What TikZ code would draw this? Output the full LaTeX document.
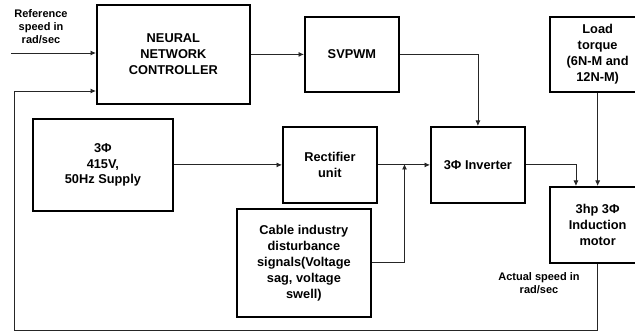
\documentclass[tikz,border=0pt]{standalone}
\usepackage{fontspec}
\setmainfont{Liberation Sans}
\usetikzlibrary{arrows.meta,calc}
\tikzset{
  blk/.style={draw=black,line width=1.8pt,align=center,inner sep=0pt,font=\fontsize{12.8}{15.9}\selectfont\bfseries,anchor=north west},
  lbl/.style={align=center,inner sep=0pt,font=\fontsize{11}{13}\selectfont\bfseries},
  conn/.style={draw=black!85,line width=0.8pt,-{Latex[length=5.5pt,width=5pt]}}
}
\newcommand{\blkbox}[6]{\node[blk,minimum width=#4pt-#2pt,minimum height=#5pt-#3pt] (#1) at (#2,#3) {#6};}
\begin{document}
\begin{tikzpicture}[x=1pt,y=-1pt]
\useasboundingbox (0,0) rectangle (635,331);
\clip (0,0) rectangle (635,331);
\blkbox{nn}{96}{4}{249}{103}{NEURAL\\NETWORK\\CONTROLLER}
\blkbox{sv}{304}{16}{398}{91}{SVPWM}
\blkbox{load}{549}{16}{644.5}{91}{Load\\torque\\(6N-M and\\12N-M)}
\blkbox{sup}{32}{118}{172}{210}{3Φ\\415V,\\50Hz Supply}
\blkbox{rec}{282}{126}{376}{202}{Rectifier\\unit}
\blkbox{inv}{430}{126}{524}{202}{3Φ Inverter}
\blkbox{cab}{236}{208}{370}{316}{Cable industry\\disturbance\\signals(Voltage\\sag, voltage\\swell)}
\blkbox{mot}{549}{186}{644.5}{262}{3hp 3Φ\\Induction\\motor}
\node[lbl] (reftxt) at (41,27) {Reference\\speed in\\rad/sec};
\node[lbl] (acttxt) at (539,283.5) {Actual speed in\\rad/sec};
\coordinate (refin) at (11,53);
\coordinate (fbbl) at (14,330);
\coordinate (fbtl) at (14,91);
\coordinate (junc) at (404.5,164);
\draw[conn] (refin) -- (refin -| nn.west);
\draw[conn] (nn.east |- sv.west) -- (sv.west);
\draw[conn] (sv.east) -| (inv.north);
\draw[conn] (sup.east |- rec.west) -- (rec.west);
\draw[conn] (rec.east) -- (inv.west);
\draw[conn] (cab.east) -| (junc);
\draw[conn] (inv.east) -| ($(mot.north)+(-21.7,0)$);
\draw[conn] (load.south) -- (mot.north);
\draw[conn] (mot.south) |- (fbbl) -- (fbtl) -- (fbtl -| nn.west);
\end{tikzpicture}
\end{document}
